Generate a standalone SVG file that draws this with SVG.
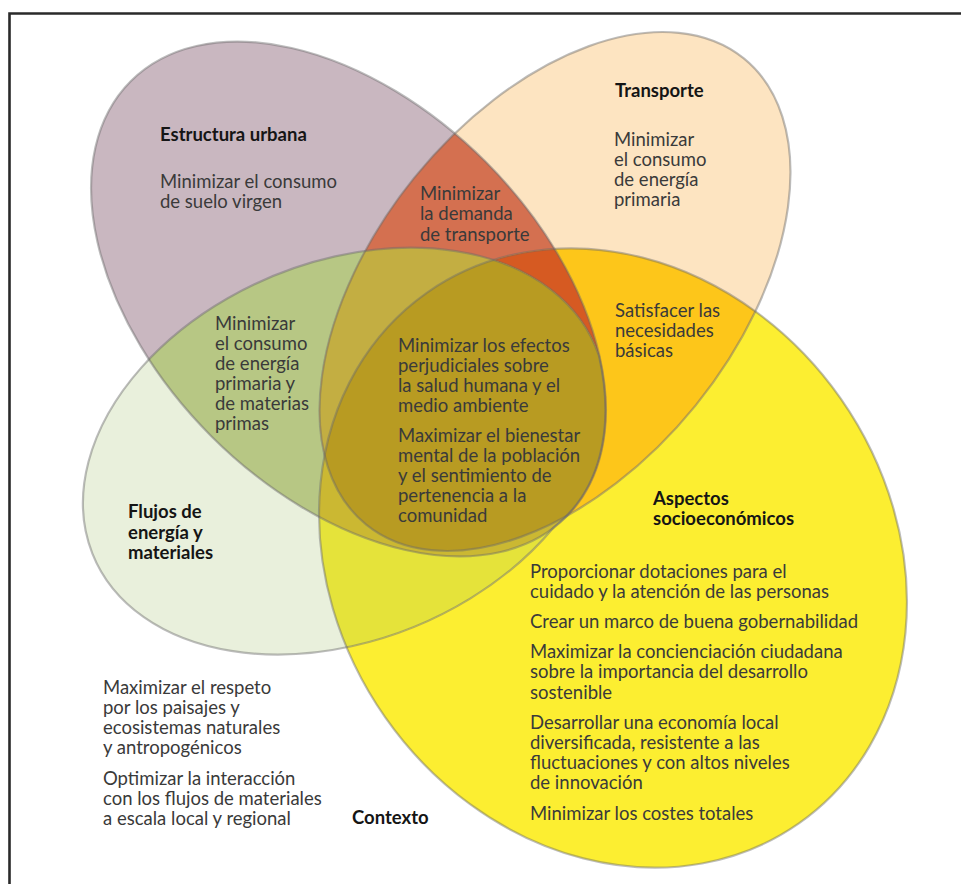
<svg xmlns="http://www.w3.org/2000/svg" xmlns:xlink="http://www.w3.org/1999/xlink" width="961" height="884" viewBox="0 0 961 884">
  <style>
    .body { font-family: Lato, "Liberation Sans", sans-serif; font-size: 18.5px; fill: #3a3a3a; }
    .head { font-family: Lato, "Liberation Sans", sans-serif; font-size: 18.5px; font-weight: bold; fill: #151515; }
    .outline { fill: none; stroke: #6a6a6a; stroke-opacity: 0.45; stroke-width: 2.2; }
  </style>
  <defs>
    <!-- the four sets of the diagram -->
    <ellipse id="eA" cx="348.5" cy="299" rx="308" ry="194" transform="rotate(45 348.5 299)"/>
    <ellipse id="eB" cx="555" cy="291.5" rx="300" ry="181" transform="rotate(-51 555 291.5)"/>
    <!-- flows set: its right tip follows the urban-structure outline -->
    <path id="eC" d="M599 356 A308 194 45 0 1 554 527 A272 189 -22.6 1 1 599 356 Z"/>
    <ellipse id="eD" cx="613" cy="558" rx="324" ry="278" transform="rotate(55 613 558)"/>
    <clipPath id="cA"><use xlink:href="#eA"/></clipPath>
    <clipPath id="cB"><use xlink:href="#eB"/></clipPath>
    <clipPath id="cC"><use xlink:href="#eC"/></clipPath>
    <clipPath id="cD"><use xlink:href="#eD"/></clipPath>
  </defs>

  <rect width="961" height="884" fill="#ffffff"/>

  <!-- frame -->
  <g id="frame" stroke="#2a2a2a" stroke-width="2.6" fill="none">
    <path d="M9.5 884 V13.5 H961"/>
  </g>

  <!-- filled regions, single sets first, then overlaps -->
  <g id="regions">
    <use xlink:href="#eD" fill="#fcee31"/>
    <use xlink:href="#eC" fill="#e9f0dc"/>
    <use xlink:href="#eB" fill="#fde4c1"/>
    <use xlink:href="#eA" fill="#c9b7c0"/>
    <!-- pairs -->
    <g clip-path="url(#cA)"><use xlink:href="#eC" fill="#b7c784"/></g>
    <g clip-path="url(#cA)"><use xlink:href="#eB" fill="#d47050"/></g>
    <g clip-path="url(#cB)"><use xlink:href="#eD" fill="#fdc61a"/></g>
    <g clip-path="url(#cC)"><use xlink:href="#eD" fill="#e5e33a"/></g>
    <!-- triples -->
    <g clip-path="url(#cA)"><g clip-path="url(#cB)"><use xlink:href="#eD" fill="#d65a22"/></g></g>
    <g clip-path="url(#cA)"><g clip-path="url(#cB)"><use xlink:href="#eC" fill="#c3ae42"/></g></g>
    <g clip-path="url(#cA)"><g clip-path="url(#cC)"><use xlink:href="#eD" fill="#cbb832"/></g></g>
    <!-- all four -->
    <g clip-path="url(#cA)"><g clip-path="url(#cB)"><g clip-path="url(#cC)"><use xlink:href="#eD" fill="#b89b22"/></g></g></g>
  </g>

  <!-- set outlines -->
  <g id="outlines">
    <use xlink:href="#eA" class="outline"/>
    <use xlink:href="#eB" class="outline"/>
    <use xlink:href="#eC" class="outline"/>
    <use xlink:href="#eD" class="outline"/>
  </g>

  <g id="node-estructura-urbana">
    <text class="head" x="160" y="140.5">Estructura urbana</text>
    <text class="body">
      <tspan x="160" y="187.5">Minimizar el consumo</tspan>
      <tspan x="160" y="207.5">de suelo virgen</tspan>
    </text>
  </g>

  <g id="node-transporte">
    <text class="head" x="615" y="97">Transporte</text>
    <text class="body">
      <tspan x="614" y="145.5">Minimizar</tspan>
      <tspan x="614" y="165.5">el consumo</tspan>
      <tspan x="614" y="185.5">de energía</tspan>
      <tspan x="614" y="205.5">primaria</tspan>
    </text>
  </g>

  <g id="node-urbana-transporte">
    <text class="body">
      <tspan x="420" y="199.5">Minimizar</tspan>
      <tspan x="420" y="220">la demanda</tspan>
      <tspan x="420" y="240.5">de transporte</tspan>
    </text>
  </g>

  <g id="node-urbana-flujos">
    <text class="body">
      <tspan x="215" y="330">Minimizar</tspan>
      <tspan x="215" y="350">el consumo</tspan>
      <tspan x="215" y="370">de energía</tspan>
      <tspan x="215" y="390">primaria y</tspan>
      <tspan x="215" y="410">de materias</tspan>
      <tspan x="215" y="430">primas</tspan>
    </text>
  </g>

  <g id="node-centro">
    <text class="body">
      <tspan x="398" y="351.5">Minimizar los efectos</tspan>
      <tspan x="398" y="371.5">perjudiciales sobre</tspan>
      <tspan x="398" y="391.5">la salud humana y el</tspan>
      <tspan x="398" y="411.5">medio ambiente</tspan>
      <tspan x="398" y="441.5">Maximizar el bienestar</tspan>
      <tspan x="398" y="461.5">mental de la población</tspan>
      <tspan x="398" y="481.5">y el sentimiento de</tspan>
      <tspan x="398" y="501.5">pertenencia a la</tspan>
      <tspan x="398" y="521.5">comunidad</tspan>
    </text>
  </g>

  <g id="node-transporte-socio">
    <text class="body">
      <tspan x="615" y="316.5">Satisfacer las</tspan>
      <tspan x="615" y="336.5">necesidades</tspan>
      <tspan x="615" y="356.5">básicas</tspan>
    </text>
  </g>

  <g id="node-flujos">
    <text class="head">
      <tspan x="128" y="518">Flujos de</tspan>
      <tspan x="128" y="538.5">energía y</tspan>
      <tspan x="128" y="559">materiales</tspan>
    </text>
  </g>

  <g id="node-socioeconomicos">
    <text class="head">
      <tspan x="653" y="505">Aspectos</tspan>
      <tspan x="653" y="525">socioeconómicos</tspan>
    </text>
    <text class="body">
      <tspan x="530" y="578">Proporcionar dotaciones para el</tspan>
      <tspan x="530" y="598">cuidado y la atención de las personas</tspan>
      <tspan x="530" y="628">Crear un marco de buena gobernabilidad</tspan>
      <tspan x="530" y="658">Maximizar la concienciación ciudadana</tspan>
      <tspan x="530" y="678">sobre la importancia del desarrollo</tspan>
      <tspan x="530" y="698.5">sostenible</tspan>
      <tspan x="530" y="728.5">Desarrollar una economía local</tspan>
      <tspan x="530" y="748.5">diversificada, resistente a las</tspan>
      <tspan x="530" y="768.5">fluctuaciones y con altos niveles</tspan>
      <tspan x="530" y="789">de innovación</tspan>
      <tspan x="530" y="819.5">Minimizar los costes totales</tspan>
    </text>
  </g>

  <g id="node-contexto">
    <text class="body">
      <tspan x="103" y="693.5">Maximizar el respeto</tspan>
      <tspan x="103" y="713.5">por los paisajes y</tspan>
      <tspan x="103" y="733.5">ecosistemas naturales</tspan>
      <tspan x="103" y="753.5">y antropogénicos</tspan>
      <tspan x="103" y="785">Optimizar la interacción</tspan>
      <tspan x="103" y="805">con los flujos de materiales</tspan>
      <tspan x="103" y="825">a escala local y regional</tspan>
    </text>
    <text class="head" x="352" y="824">Contexto</text>
  </g>
</svg>
